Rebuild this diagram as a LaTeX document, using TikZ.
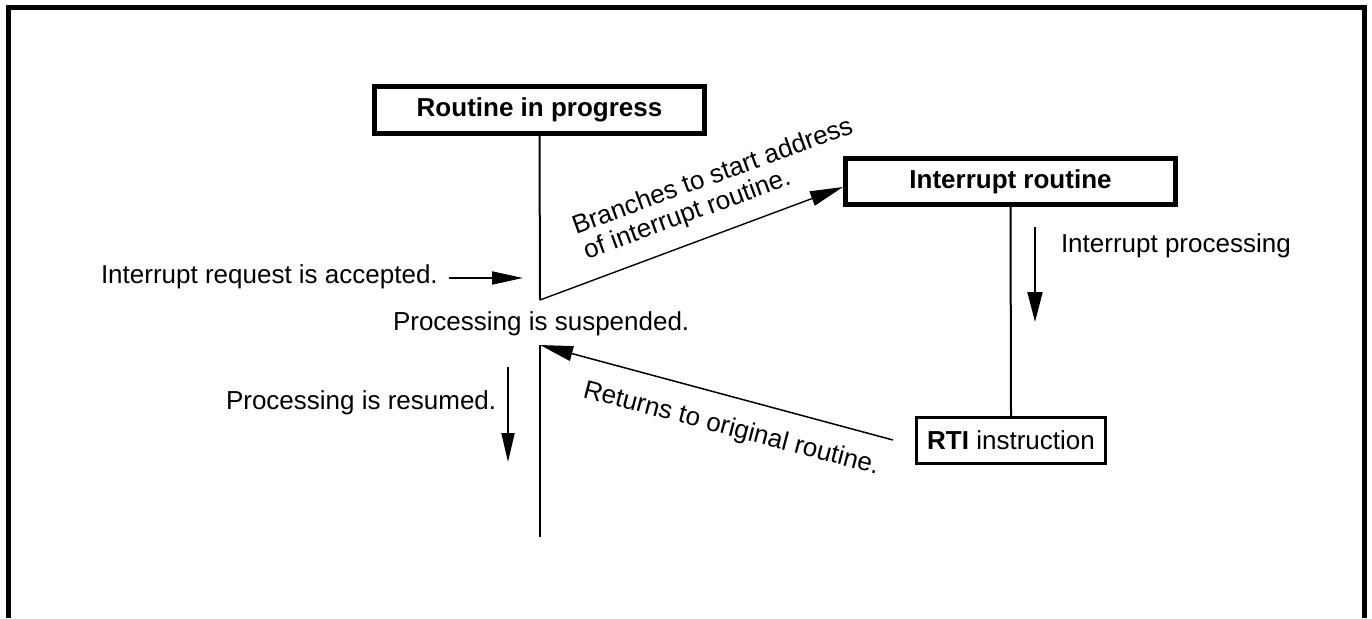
\documentclass[tikz,border=0pt]{standalone}
\usepackage{fontspec}
\setmainfont{Liberation Sans}
\usetikzlibrary{arrows.meta}
\begin{document}
\begin{tikzpicture}[x=1pt,y=-1pt,
  font=\fontsize{26}{31}\selectfont,
  boxthick/.style={draw,line width=5pt,minimum width=330pt,minimum height=47pt,inner sep=0pt},
  boxthin/.style={draw,line width=2.5pt,minimum width=189pt,minimum height=46pt,inner sep=0pt},
  lbl/.style={inner sep=0pt,outer sep=0pt},
  conn/.style={line width=2pt},
  arr/.style={line width=2pt,-{Triangle[length=31pt,width=13pt]}},
  slimarr/.style={line width=1.4pt,-{Triangle[length=33pt,width=15pt]}}]
\useasboundingbox (0,0) rectangle (1372,618);
% frame
\draw[line width=5pt] (8.5,618) -- (8.5,7.5) -- (1364,7.5) -- (1364,618);
% boxes
\node[boxthick] (rip) at (539.5,110) {\bfseries Routine in progress};
\node[boxthick,minimum height=46pt] (ir) at (1010.5,181.5) {\bfseries Interrupt routine};
\node[boxthin] (rti) at (1011,440.5) {\textbf{RTI} instruction};
% coordinates
\coordinate (susp) at (540,300);
\coordinate (res) at (540,345);
\coordinate (endl) at (540,537);
\coordinate (reqA) at (449,278);
\coordinate (reqB) at (523,278);
\coordinate (ipA) at (1035,227);
\coordinate (ipB) at (1035,322);
\coordinate (rsA) at (508,367);
\coordinate (rsB) at (508,462);
\coordinate (retA) at (893,440);
% connectors
\draw[conn] (rip.south) -- (susp);
\draw[slimarr] (susp) -- ([yshift=-5.5pt]ir.west);
\draw[conn] (ir.south) -- (rti.north);
\draw[slimarr,line width=1.5pt] (retA) -- (res);
\draw[conn] (res) -- (endl);
\draw[arr] (reqA) -- (reqB);
\draw[arr,-{Triangle[length=30pt,width=15pt]}] (ipA) -- (ipB);
\draw[arr,-{Triangle[length=29pt,width=13pt]}] (rsA) -- (rsB);
% labels
\node[lbl,anchor=base west] (treq) at (101,283) {Interrupt request is accepted.};
\node[lbl,anchor=base west] (tsus) at (393,330) {Processing is suspended.};
\node[lbl,anchor=base west] (tres) at (226,409) {Processing is resumed.};
\node[lbl,anchor=base west] (tip) at (1061,252) {Interrupt processing};
\node[lbl,anchor=base west,rotate=20] (tbr1) at (576,234) {Branches to start address};
\node[lbl,anchor=base west,rotate=20] (tbr2) at (587,259) {of interrupt routine.};
\node[lbl,anchor=base west,rotate=-14.7] (tret) at (582,397) {Returns to original routine.};
\end{tikzpicture}
\end{document}
